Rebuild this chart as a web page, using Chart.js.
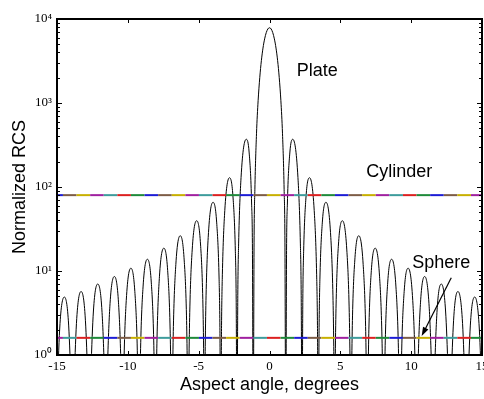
<!DOCTYPE html>
<html><head><meta charset="utf-8">
<script src="https://cdn.jsdelivr.net/npm/chart.js@4"></script>
<style>html,body{margin:0;padding:0;overflow:hidden;background:#fff}#wrap{width:490px;height:399px}</style>
</head><body><div id="wrap"><canvas id="c" width="490" height="399"></canvas></div>
<script>
// ---- data ----
const plateAngle = [
 -15.085,-14.967,-14.789,-14.483,-14.197,-14.019,
 -13.901,-13.783,-13.606,-13.300,-13.017,-12.840,
 -12.722,-12.605,-12.429,-12.124,-11.842,-11.666,
 -11.549,-11.432,-11.257,-10.952,-10.672,-10.497,
 -10.380,-10.322,-10.264,-10.089,-9.784,-9.507,-9.332,-9.274,
 -9.216,-9.158,-9.100,-8.926,-8.620,-8.346,-8.172,-8.114,
 -8.056,-7.998,-7.940,-7.767,-7.459,-7.188,-7.015,-6.957,
 -6.899,-6.841,-6.784,-6.611,-6.301,-6.034,-5.860,-5.803,
 -5.745,-5.687,-5.630,-5.457,-5.143,-4.881,-4.708,-4.651,
 -4.593,-4.536,-4.478,-4.306,-3.985,-3.731,-3.558,-3.501,
 -3.443,-3.386,-3.328,-3.156,-2.822,-2.582,-2.410,-2.352,
 -2.295,-2.238,-2.180,-2.008,-1.641,-1.434,-1.262,-1.204,
 -1.147,-1.090,-1.032,-0.918,-0.803,-0.688,-0.574,-0.459,-0.344,-0.229,-0.115,
 0,
 0.115,0.229,0.344,0.459,0.574,0.688,0.803,0.918,1.032,1.090,1.147,
 1.204,1.262,1.434,1.641,2.008,2.180,2.238,2.295,
 2.352,2.410,2.582,2.822,3.156,3.328,3.386,3.443,
 3.501,3.558,3.731,3.985,4.306,4.478,4.536,4.593,
 4.651,4.708,4.881,5.143,5.457,5.630,5.687,5.745,
 5.803,5.860,6.034,6.301,6.611,6.784,6.841,6.899,
 6.957,7.015,7.188,7.459,7.767,7.940,7.998,8.056,
 8.114,8.172,8.346,8.620,8.926,9.100,9.158,9.216,
 9.274,9.332,9.507,9.784,10.089,10.264,10.322,10.380,
 10.497,10.672,10.952,11.257,11.432,11.549,
 11.666,11.842,12.124,12.429,12.605,12.722,
 12.840,13.017,13.300,13.606,13.783,13.901,
 14.019,14.197,14.483,14.789,14.967,15.085
];
const plateRCS = [
 0.1,0.44,2.36,4.9,2.55,0.50,
 0.1,0.51,2.73,5.7,2.98,0.58,
 0.1,0.62,3.34,7.0,3.67,0.72,
 0.1,0.76,4.08,8.6,4.54,0.90,
 0.1,0.24,0.94,5.10,10.8,5.73,1.14,0.29,
 0.1,0.30,1.19,6.46,13.8,7.38,1.47,0.38,
 0.1,0.40,1.58,8.67,18.7,10.1,2.03,0.53,
 0.1,0.55,2.18,12.0,26.3,14.4,2.92,0.76,
 0.1,0.80,3.20,17.8,39.7,22.3,4.57,1.20,
 0.1,1.26,5.06,28.7,65.8,38.2,8.01,2.12,
 0.1,2.23,9.01,52.5,129,78.4,17.2,4.62,
 0.1,5.11,21.0,129.7,370,254,62.7,17.6,
 0.1,21.6,94.0,430,1065,2003,3190,4508,5799,6887,7614,
 7870,
 7614,6887,5799,4508,3190,2003,1065,430,94.0,21.6,0.1,
 17.6,62.7,254,370,129.7,21.0,5.11,0.1,
 4.62,17.2,78.4,129,52.5,9.01,2.23,0.1,
 2.12,8.01,38.2,65.8,28.7,5.06,1.26,0.1,
 1.20,4.57,22.3,39.7,17.8,3.20,0.80,0.1,
 0.76,2.92,14.4,26.3,12.0,2.18,0.55,0.1,
 0.53,2.03,10.1,18.7,8.67,1.58,0.40,0.1,
 0.38,1.47,7.38,13.8,6.46,1.19,0.30,0.1,
 0.29,1.14,5.73,10.8,5.10,0.94,0.24,0.1,
 0.90,4.54,8.6,4.08,0.76,0.1,
 0.72,3.67,7.0,3.34,0.62,0.1,
 0.58,2.98,5.7,2.73,0.51,0.1,
 0.50,2.55,4.9,2.36,0.44,0.1
];
const cylinderRCS = 80;
const sphereRCS = 1.6;
const xTicks = [-15, -10, -5, 0, 5, 10, 15];
const xTickLabels = ['-15', '-10', '-5', '0', '5', '10', '15'];
const yTicks = [1, 10, 100, 1000, 10000];
const yTickLabels = ['10\u2070', '10\u00B9', '10\u00B2', '10\u00B3', '10\u2074'];
const seriesNames = ['Plate', 'Cylinder', 'Sphere'];

// ---- styling ----
const lineColors = ['#1c1cd6', '#7d5c46', '#c8b000', '#a020a0', '#3e9c9c', '#dc2020', '#1e8a3a'];
const segStart = -14.58, segLen = 0.96;
const breaks = [-15];
for (let b = segStart; b < 15; b += segLen) breaks.push(+b.toFixed(3));
breaks.push(15);

function flatLine(label, v, phase) {
  return {
    label,
    data: breaks.map(x => ({x, y: v})),
    borderColor: lineColors[phase],
    segment: { borderColor: c => lineColors[(c.p0DataIndex + phase) % lineColors.length] },
    borderWidth: 2, pointRadius: 0, order: 0
  };
}

const notes = [
  {text: seriesNames[0], x: 1.92, y: 2096},
  {text: seriesNames[1], x: 6.83, y: 132.7},
  {text: seriesNames[2], x: 10.08, y: 10.77}
];
const arrow = {from: [12.83, 8.3], to: [10.74, 1.68]};

const decor = {
  id: 'decor',
  afterDatasetsDraw(chart) {
    const {ctx, chartArea: a, scales: {x, y}} = chart;
    ctx.save();
    ctx.strokeStyle = '#000';
    const seg = (x1, y1, x2, y2) => { ctx.beginPath(); ctx.moveTo(x1, y1); ctx.lineTo(x2, y2); ctx.stroke(); };
    ctx.lineWidth = 1;
    xTicks.forEach(v => {
      const px = Math.round(x.getPixelForValue(v)) + 0.5;
      seg(px, a.bottom, px, a.bottom - 4);
      seg(px, a.top, px, a.top + 4);
    });
    for (let d = 0; d < 4; d++) {
      for (let k = 1; k <= 9; k++) {
        const py = Math.round(y.getPixelForValue(k * Math.pow(10, d))) + 0.5;
        const len = k === 1 ? 5 : 3;
        seg(a.left, py, a.left + len, py);
        seg(a.right, py, a.right - len, py);
      }
    }
    ctx.lineWidth = 2;
    ctx.strokeRect(a.left, a.top, a.right - a.left, a.bottom - a.top);
    // labels
    ctx.fillStyle = '#000';
    ctx.font = '18px "Liberation Sans", Arial, sans-serif';
    ctx.textAlign = 'left';
    ctx.textBaseline = 'alphabetic';
    notes.forEach(n => ctx.fillText(n.text, x.getPixelForValue(n.x), y.getPixelForValue(n.y)));
    // arrow
    const x1 = x.getPixelForValue(arrow.from[0]), y1 = y.getPixelForValue(arrow.from[1]);
    const x2 = x.getPixelForValue(arrow.to[0]), y2 = y.getPixelForValue(arrow.to[1]);
    const ang = Math.atan2(y2 - y1, x2 - x1);
    ctx.lineWidth = 1.2;
    seg(x1, y1, x2 - 6 * Math.cos(ang), y2 - 6 * Math.sin(ang));
    ctx.beginPath();
    ctx.moveTo(x2, y2);
    ctx.lineTo(x2 - 9 * Math.cos(ang) + 3 * Math.sin(ang), y2 - 9 * Math.sin(ang) - 3 * Math.cos(ang));
    ctx.lineTo(x2 - 9 * Math.cos(ang) - 3 * Math.sin(ang), y2 - 9 * Math.sin(ang) + 3 * Math.cos(ang));
    ctx.closePath();
    ctx.fill();
    ctx.restore();
  }
};

new Chart(document.getElementById('c'), {
  type: 'line',
  data: {
    datasets: [
      flatLine(seriesNames[1], cylinderRCS, 0),
      flatLine(seriesNames[2], sphereRCS, 3),
      {
        label: seriesNames[0],
        data: plateAngle.map((v, i) => ({x: v, y: plateRCS[i]})),
        borderColor: '#000', borderWidth: 1, pointRadius: 0,
        cubicInterpolationMode: 'monotone', order: 1
      }
    ]
  },
  options: {
    responsive: false, animation: false, devicePixelRatio: 1,
    layout: {padding: {left: 0, right: 8, top: 19, bottom: 0}},
    plugins: {legend: {display: false}, tooltip: {enabled: false}},
    scales: {
      x: {
        type: 'linear', min: -15, max: 15,
        afterBuildTicks: s => { s.ticks = xTicks.map(v => ({value: v})); },
        afterFit: s => { s.height = 44; s.paddingLeft = 0; s.paddingRight = 0; },
        grid: {display: false, drawTicks: false, tickLength: 0},
        border: {display: false},
        ticks: {autoSkip: false, maxRotation: 0, padding: 4, color: '#000',
          font: {family: '"Liberation Serif", "Times New Roman", serif', size: 13},
          callback: (v, i) => xTickLabels[i]},
        title: {display: true, text: 'Aspect angle, degrees', color: '#000',
          font: {family: '"Liberation Sans", Arial, sans-serif', size: 18}, padding: {top: 0, bottom: 3}}
      },
      y: {
        type: 'logarithmic', min: 1, max: 10000,
        afterBuildTicks: s => { s.ticks = yTicks.map(v => ({value: v})); },
        afterFit: s => { s.width = 57; s.paddingTop = 0; s.paddingBottom = 0; },
        grid: {display: false, drawTicks: false, tickLength: 0},
        border: {display: false},
        ticks: {autoSkip: false, padding: 5, color: '#000',
          font: {family: '"Liberation Serif", "Times New Roman", serif', size: 13},
          callback: (v, i) => yTickLabels[i]},
        title: {display: true, text: 'Normalized RCS', color: '#000',
          font: {family: '"Liberation Sans", Arial, sans-serif', size: 18}, padding: {top: 9, bottom: 0}}
      }
    }
  },
  plugins: [decor]
});
</script>
</body></html>
